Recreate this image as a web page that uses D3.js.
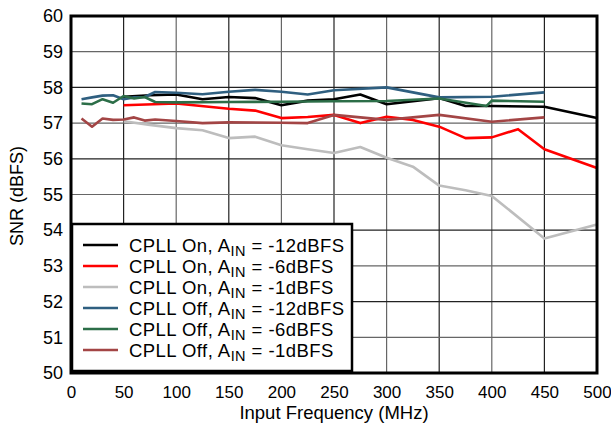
<!DOCTYPE html>
<html><head><meta charset="utf-8">
<script src="https://cdn.jsdelivr.net/npm/d3@7"></script>
<style>body{margin:0;background:#fff}svg{display:block}text{font-family:"Liberation Sans",Arial,Helvetica,sans-serif;fill:#000}</style>
</head><body><svg id="c" width="611" height="428"></svg>
<script>
const xTicks = [0,50,100,150,200,250,300,350,400,450,500];
const yTicks = [50,51,52,53,54,55,56,57,58,59,60];

const onM12F = [50,75,100,125,150,175,200,225,250,275,300,350,375,400,450,500];
const onM12V = [57.74,57.78,57.8,57.67,57.73,57.7,57.5,57.63,57.67,57.8,57.53,57.7,57.48,57.48,57.46,57.14];

const onM6F = [50,100,150,175,200,225,250,275,300,325,350,375,400,425,450,500];
const onM6V = [57.5,57.55,57.4,57.35,57.14,57.17,57.23,57.0,57.18,57.09,56.9,56.58,56.6,56.83,56.27,55.74];

const onM1F = [50,75,100,125,150,175,200,225,250,275,300,325,350,375,400,450,500];
const onM1V = [57.05,56.95,56.86,56.8,56.58,56.62,56.38,56.27,56.16,56.33,56.03,55.78,55.25,55.12,54.96,53.77,54.16];

const offM12F = [10,20,30,40,50,60,70,80,100,125,150,175,200,225,250,300,350,400,450];
const offM12V = [57.67,57.72,57.77,57.78,57.67,57.72,57.73,57.87,57.85,57.81,57.88,57.93,57.88,57.8,57.92,58.0,57.72,57.74,57.86];

const offM6F = [10,20,30,40,50,60,70,80,100,150,200,250,300,350,395,400,450];
const offM6V = [57.55,57.53,57.67,57.57,57.76,57.69,57.73,57.59,57.58,57.59,57.6,57.61,57.62,57.69,57.48,57.63,57.6];

const offM1F = [10,20,30,40,50,60,70,80,100,125,150,200,225,250,300,350,400,450];
const offM1V = [57.13,56.9,57.13,57.09,57.1,57.16,57.07,57.1,57.06,57.0,57.02,57.01,57.0,57.23,57.09,57.23,57.04,57.16];

const seriesNames = ["CPLL On", "CPLL On", "CPLL On", "CPLL Off", "CPLL Off", "CPLL Off"];
const seriesLevels = ["-12dBFS","-6dBFS","-1dBFS","-12dBFS","-6dBFS","-1dBFS"];
const seriesColors = ["#000000","#ff0000","#bdbdbd","#2f5f80","#2c6e48","#a34545"];
const seriesF = [onM12F,onM6F,onM1F,offM12F,offM6F,offM1F];
const seriesV = [onM12V,onM6V,onM1V,offM12V,offM6V,offM1V];

const svg = d3.select("#c");
const x = d3.scaleLinear().domain([0,500]).range([71,597]);
const y = d3.scaleLinear().domain([50,60]).range([373,16]);

// grid
const g = svg.append("g");
g.selectAll("line.v").data(xTicks.slice(1,-1)).join("line")
  .attr("x1",d=>x(d)).attr("x2",d=>x(d)).attr("y1",y(50)).attr("y2",y(60))
  .attr("stroke",(d,i)=>i%2?"#666":"#222").attr("stroke-width",1.2);
g.selectAll("line.h").data(yTicks.slice(1,-1)).join("line")
  .attr("y1",d=>y(d)).attr("y2",d=>y(d)).attr("x1",x(0)).attr("x2",x(500))
  .attr("stroke",(d,i)=>i%2?"#222":"#666").attr("stroke-width",1.2);

// lines
const line = d3.line().x(d=>x(d[0])).y(d=>y(d[1]));
seriesF.forEach((f,i)=>{
  svg.append("path").datum(f.map((v,j)=>[v,seriesV[i][j]]))
    .attr("d",line).attr("fill","none").attr("stroke",seriesColors[i])
    .attr("stroke-width",2.6).attr("stroke-linejoin","round");
});

// legend
const lg = svg.append("g");
lg.append("rect").attr("x",72).attr("y",224).attr("width",280).attr("height",147)
  .attr("fill","#fff").attr("stroke","#000").attr("stroke-width",2.5);
seriesNames.forEach((n,i)=>{
  const yy = 245 + i*21;
  lg.append("line").attr("x1",83).attr("x2",118).attr("y1",yy).attr("y2",yy)
    .attr("stroke",seriesColors[i]).attr("stroke-width",2.6);
  const t = lg.append("text").attr("x",129).attr("y",yy+6.5).attr("font-size",18.5).attr("letter-spacing",0.45);
  t.append("tspan").text(n+", A");
  t.append("tspan").attr("dy",4).attr("font-size",14.5).text("IN");
  t.append("tspan").attr("dy",-4).text(" = "+seriesLevels[i]);
});

// frame
svg.append("rect").attr("x",x(0)).attr("y",y(60)).attr("width",x(500)-x(0)).attr("height",y(50)-y(60))
  .attr("fill","none").attr("stroke","#000").attr("stroke-width",3);

// axes labels
const ax = d3.axisBottom(x).tickValues(xTicks).tickSize(0).tickPadding(13);
svg.append("g").attr("transform",`translate(0,${y(50)})`).call(ax)
  .call(s=>s.select(".domain").remove())
  .selectAll("text").attr("font-size",17).attr("font-family","Liberation Sans, Arial, sans-serif").attr("fill","#000");
const ay = d3.axisLeft(y).tickValues(yTicks).tickSize(0).tickPadding(8);
svg.append("g").attr("transform",`translate(${x(0)},0)`).call(ay)
  .call(s=>s.select(".domain").remove())
  .selectAll("text").attr("font-size",18).attr("font-family","Liberation Sans, Arial, sans-serif").attr("fill","#000");

svg.append("text").attr("x",334).attr("y",419).attr("text-anchor","middle").attr("font-size",18.5).text("Input Frequency (MHz)");
svg.append("text").attr("transform","translate(23,196) rotate(-90)").attr("text-anchor","middle").attr("font-size",18).text("SNR (dBFS)");
</script></body></html>
